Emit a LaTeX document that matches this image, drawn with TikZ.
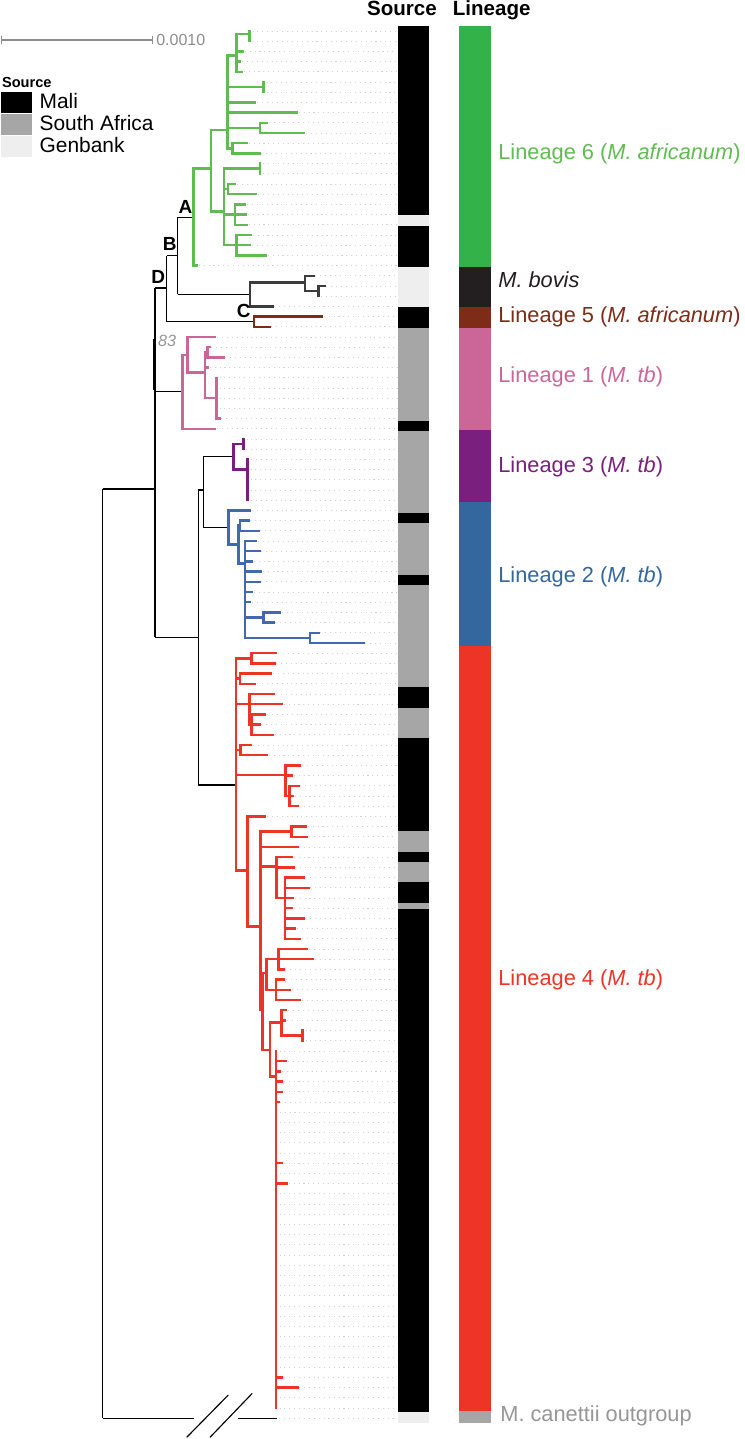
\documentclass[tikz,border=0pt]{standalone}
\usepackage{fontspec}
\setmainfont{Liberation Sans}
\definecolor{lsixbar}{RGB}{51,178,74}
\definecolor{lsix}{RGB}{95,188,80}
\definecolor{bovis}{RGB}{35,31,32}
\definecolor{bovbr}{RGB}{60,60,60}
\definecolor{lfive}{RGB}{126,43,23}
\definecolor{lone}{RGB}{204,102,153}
\definecolor{lthree}{RGB}{122,31,125}
\definecolor{ltwo}{RGB}{52,103,158}
\definecolor{ltwobr}{RGB}{66,104,176}
\definecolor{lfour}{RGB}{237,52,38}
\definecolor{outgrp}{RGB}{166,166,166}
\definecolor{outtxt}{RGB}{150,150,150}
\definecolor{sagray}{RGB}{166,166,166}
\definecolor{genbank}{RGB}{238,238,238}
\definecolor{guidegray}{RGB}{210,210,210}
\definecolor{scalegray}{RGB}{140,140,140}
\newcommand{\ry}[1]{31+10.2*#1}

\begin{document}
\begin{tikzpicture}[x=0.02cm, y=-0.02cm,
  anc/.style={line width=0.65pt, black},
  br/.style={line width=1.45pt, line cap=rect},
  guide/.style={guidegray, line width=0.45pt, dash pattern=on 0.6pt off 2.2pt},
  lablin/.style={anchor=base west, inner sep=0pt, font=\fontsize{12.4}{14}\selectfont},
  hdr/.style={anchor=base, inner sep=0pt, font=\fontsize{11.7}{13}\selectfont\bfseries},
  nodelab/.style={anchor=base, inner sep=0pt, font=\fontsize{10.8}{12}\selectfont\bfseries},
  legtxt/.style={anchor=base west, inner sep=0pt, font=\fontsize{11.9}{13}\selectfont}]
  \useasboundingbox (0,0) rectangle (744,1439);

  % --- Scale bar and legend ---
  \draw[scalegray, line width=0.6pt] (1.7,40) -- (152.7,40);
  \draw[scalegray, line width=0.6pt] (1.7,36) -- (1.7,44) (152.7,36) -- (152.7,44);
  \node[anchor=base west, inner sep=0pt, scalegray, font=\fontsize{9.1}{10}\selectfont] (scl) at (156,45.7) {0.0010};
  \node[anchor=base west, inner sep=0pt, font=\fontsize{8.3}{9}\selectfont\bfseries] (legt) at (1.7,87.3) {Source};
  \fill[black] (1,92.5) rectangle (31.7,113);
  \fill[sagray] (1,114) rectangle (31.7,135.5);
  \fill[genbank] (1,136.5) rectangle (31.7,157);
  \node[legtxt] (legm) at (39.3,108.3) {Mali};
  \node[legtxt] (legs) at (39.3,131) {South Africa};
  \node[legtxt] (legg) at (39.3,152.7) {Genbank};

  % --- Column headers ---
  \node[hdr] (hsrc) at (402,15.2) {Source};
  \node[hdr] (hlin) at (491.7,15.2) {Lineage};

  % --- Dotted guides from the tips ---
  \foreach \t/\r in {250.5/0, 250.5/1, 242.7/2, 240/3, 241.7/4, 264.5/5, 264.5/6, 255/7,
      296.7/8, 266.7/9, 304/10, 246.7/11, 259.3/12, 261/13, 261/14, 235/15, 256/16,
      245/17, 245.7/18, 246.7/19, 250.7/20, 250/21, 265.7/22, 196.7/23,
      313.3/24, 324.3/25, 319/26, 272.3/27, 321.7/28, 269.3/29,
      215/30, 209.3/31, 223.3/32, 207.7/33, 217.5/34, 217.5/35, 217.5/36, 217.5/37, 219.3/38, 215/39,
      244.5/40, 244/41, 249.3/42, 248.5/43, 248.5/44, 248.5/45, 249/46,
      250/47, 248.3/48, 258.3/49, 256/50, 259.3/51, 251.7/52, 260.7/53, 259.3/54, 251.7/55,
      250/56, 280/57, 273.3/58, 318.3/59, 363.3/60,
      276/61, 274.3/62, 271/63, 255/64, 274/65, 281.7/66, 265/67, 259.3/68, 272.7/69, 251/70,
      266.7/71, 300/72, 291.7/73, 298.3/74, 292.7/75, 297.3/76, 265/77, 305.7/78, 306.7/79,
      297.3/80, 291.7/81, 293.3/82, 303.3/83, 308.3/84, 292.7/85, 291.7/86, 303.3/87, 295/88,
      300/89, 306.7/90, 312.7/91, 283.3/92, 284/93, 290/94, 300/95, 286/96, 285/97, 303.5/98,
      303.5/99, 277.5/100, 285.7/101, 280/102, 281.7/103, 281.7/104, 278.3/105, 277.7/106,
      277.5/107, 277.5/108, 277.5/109, 277.5/110, 281.7/111, 277.5/112, 286.7/113, 277.5/114,
      277.5/115, 277.5/116, 277.5/117, 277.5/118, 277.5/119, 277.5/120, 277.5/121, 277.5/122,
      277.5/123, 277.5/124, 277.5/125, 277.5/126, 277.5/127, 277.5/128, 277.5/129, 277.5/130,
      277.5/131, 282/132, 297.3/133, 277.5/134, 277.5/135, 277.3/136}
    \draw[guide] ({\t+2},{\ry{\r}}) -- (397,{\ry{\r}});

  % --- Source bar ---
  \foreach \a/\b/\c in {26/215/black, 215/226/genbank, 226/267/black, 267/307.3/genbank,
      307.3/328.3/black, 328.3/420.7/sagray, 420.7/431/black, 431/513.3/sagray,
      513.3/523.3/black, 523.3/575/sagray, 575/585/black, 585/687.3/sagray,
      687.3/707.7/black, 707.7/738.3/sagray, 738.3/831/black, 831/851.7/sagray,
      851.7/861.7/black, 861.7/882.3/sagray, 882.3/903.3/black, 903.3/909.3/sagray,
      909.3/1412.3/black, 1412.3/1423/genbank}
    \fill[\c] (398,\a) rectangle (428.5,\b);

  % --- Lineage bar ---
  \foreach \a/\b/\c in {26/267/lsixbar, 267/307.3/bovis, 307.3/328.3/lfive, 328.3/430/lone,
      430/502.3/lthree, 502.3/645.7/ltwo, 645.7/1411.3/lfour, 1411.3/1423/outgrp}
    \fill[\c] (459,\a) rectangle (491,\b);

  % --- Backbone (black) ---
  \foreach \x/\a/\b in {102.7/489/1418.2, 155/288/637.3, 166.7/255.8/321.7,
      177.7/217.3/294.3, 198.3/490/785, 203.3/456.9/527.5}
    \draw[anc] (\x,\a) -- (\x,\b);
  \foreach \a/\b/\y in {102.7/155/489, 155/166.7/288, 155/182.7/391.8, 155/198.3/637.3,
      166.7/177.7/255.8, 166.7/254/321.7, 177.7/193.3/217.3, 177.7/250/294.3,
      198.3/203.3/490, 198.3/236/785, 203.3/233.3/456.9, 203.3/228.3/527.5}
    \draw[anc] (\a,\y) -- (\b,\y);
  \draw[line width=1.4pt] (154.7,339) -- (154.7,390);
  % outgroup with break
  \draw[anc] (102.7,1418.2) -- (194,1418.2);
  \draw[anc] (238.3,1418.2) -- (277.3,1418.2);
  \draw[anc] (186.7,1437.3) -- (228.3,1395);
  \draw[anc] (210,1437.3) -- (252.3,1393.3);

  % --- Lineage 6 (green) ---
  \foreach \x/\a/\b in {193.3/168.3/265.6, 211/130/211.7, 227.7/55.5/148.3, 236.7/34/71.8,
      249.3/31/41.2, 263.3/82/92.2, 260/122.8/133, 232.3/143.2/153.4, 224/168.7/245.2,
      260/163.6/173.8, 228/184/194.2, 235/204.4/224.8, 236.7/235/255.4}
    \draw[br, lsix] (\x,\a) -- (\x,\b);
  \foreach \a/\b/\y in {193.3/211/168.3, 211/227.7/130, 211/224/211.7, 227.7/236.7/55.5,
      236.7/249.3/34, 227.7/263.3/87.1, 227.7/260/127.9, 227.7/232.3/148.3, 224/260/168.7,
      224/228/189.1, 224/235/214.6, 224/236.7/245.2}
    \draw[br, lsix] (\a,\y) -- (\b,\y);
  \foreach \p/\t/\r in {236.7/242.7/2, 236.7/240/3, 236.7/241.7/4, 227.7/255/7, 227.7/296.7/8,
      260/266.7/9, 260/304/10, 232.3/246.7/11, 232.3/259.3/12, 228/235/15, 228/256/16,
      235/245/17, 235/245.7/18, 235/246.7/19, 236.7/250.7/20, 236.7/250/21, 236.7/265.7/22,
      193.3/196.7/23}
    \draw[br, lsix] (\p,{\ry{\r}}) -- (\t,{\ry{\r}});

  % --- M. bovis and Lineage 5 ---
  \foreach \x/\a/\b in {250/282.5/306.4, 305/275.8/291.1, 318.3/286/296.2}
    \draw[br, bovbr] (\x,\a) -- (\x,\b);
  \foreach \a/\b/\y in {250/305/282.5, 305/318.3/291.1}
    \draw[br, bovbr] (\a,\y) -- (\b,\y);
  \foreach \p/\t/\r in {305/313.3/24, 318.3/324.3/25, 250/272.3/27}
    \draw[br, bovbr] (\p,{\ry{\r}}) -- (\t,{\ry{\r}});
  \draw[br, lfive] (254,{\ry{28}}) -- (254,{\ry{29}});
  \foreach \p/\t/\r in {254/321.7/28, 254/269.3/29}
    \draw[br, lfive] (\p,{\ry{\r}}) -- (\t,{\ry{\r}});

  % --- Lineage 1 (pink) ---
  \foreach \x/\a/\b in {182.7/354.8/428.8, 187.7/337/372.7, 205/352.3/398.2,
      207.7/347.2/357.4, 216.7/377.8/418.6}
    \draw[br, lone] (\x,\a) -- (\x,\b);
  \foreach \a/\b/\y in {182.7/187.7/354.8, 187.7/205/372.7, 205/207.7/352.3, 205/216.7/398.2}
    \draw[br, lone] (\a,\y) -- (\b,\y);
  \foreach \p/\t/\r in {187.7/215/30, 207.7/209.3/31, 207.7/223.3/32, 205/207.7/33,
      216.7/219.3/38, 182.7/215/39}
    \draw[br, lone] (\p,{\ry{\r}}) -- (\t,{\ry{\r}});

  % --- Lineage 3 (purple) ---
  \foreach \x/\a/\b in {233.3/444.1/469.6, 243.3/439/449.2, 247.7/459.4/500.2}
    \draw[br, lthree] (\x,\a) -- (\x,\b);
  \foreach \a/\b/\y in {233.3/243.3/444.1, 233.3/247.7/469.6}
    \draw[br, lthree] (\a,\y) -- (\b,\y);

  % --- Lineage 2 (blue) ---
  \foreach \x/\a/\b in {228.3/510.4/544.5, 238.3/525.7/563.3, 240/520.6/530.8,
      245/541/637.9, 263.3/612.4/622.6, 310/632.8/643}
    \draw[br, ltwobr] (\x,\a) -- (\x,\b);
  \foreach \a/\b/\y in {228.3/238.3/544.5, 238.3/240/525.7, 238.3/245/563.3,
      245/263.3/617.5, 245/310/637.9}
    \draw[br, ltwobr] (\a,\y) -- (\b,\y);
  \foreach \p/\t/\r in {228.3/250/47, 240/248.3/48, 240/258.3/49, 245/256/50, 245/259.3/51,
      245/251.7/52, 245/260.7/53, 245/259.3/54, 245/251.7/55, 245/250/56, 263.3/280/57,
      263.3/273.3/58, 310/318.3/59, 310/363.3/60}
    \draw[br, ltwobr] (\p,{\ry{\r}}) -- (\t,{\ry{\r}});

  % --- Lineage 4 (red) ---
  \foreach \x/\a/\b in {236/658.3/870.7, 251.7/653.2/663.4, 240/673.6/683.8, 249.3/694/724.6,
      251.7/714.4/734.8, 240.7/745/755.2, 285.7/765.4/796, 289.3/785.8/806.2,
      247.7/816.4/926.7, 260.5/831.7/1010, 291.7/826.6/836.8, 276.7/857.2/898,
      285/877.6/938.8, 262.3/972.9/1050, 266.7/959.2/989.8, 278.3/949/969.4,
      276/979.6/1000, 270/1022.7/1076.7, 281.7/1010.2/1035.7, 302.7/1030.6/1040.8,
      276/1051/1408}
    \draw[br, lfour] (\x,\a) -- (\x,\b);
  \foreach \a/\b/\y in {236/251.7/658.3, 236/240/678.7, 236/249.3/704.2, 249.3/251.7/724.6,
      236/240.7/750.1, 236/285.7/775, 285.7/289.3/796, 236/247.7/870.7, 247.7/260.5/926.7,
      260.5/291.7/831.7, 260.5/276.7/866.7, 276.7/285/898, 260.5/262.3/1010,
      262.3/266.7/972.9, 266.7/278.3/959.2, 266.7/276/989.8, 262.3/270/1050,
      270/281.7/1022.7, 281.7/302.7/1035.7, 270/276/1076.7}
    \draw[br, lfour] (\a,\y) -- (\b,\y);
  \foreach \p/\t/\r in {251.7/276/61, 251.7/274.3/62, 240/271/63, 240/255/64, 249.3/274/65,
      249.3/281.7/66, 251.7/265/67, 251.7/259.3/68, 251.7/272.7/69, 240.7/251/70,
      240.7/266.7/71, 285.7/300/72, 285.7/291.7/73, 289.3/298.3/74, 289.3/292.7/75,
      289.3/297.3/76, 247.7/265/77, 291.7/305.7/78, 291.7/306.7/79, 260.5/297.3/80,
      276.7/291.7/81, 276.7/293.3/82, 285/303.3/83, 285/308.3/84, 285/292.7/85,
      285/291.7/86, 285/303.3/87, 285/295/88, 285/300/89, 278.3/306.7/90, 278.3/312.7/91,
      278.3/283.3/92, 276/284/93, 276/290/94, 276/300/95, 281.7/286/96, 281.7/285/97,
      276/285.7/101, 276/280/102, 276/281.7/103, 276/281.7/104, 276/278.3/105,
      276/281.7/111, 276/286.7/113, 276/282/132, 276/297.3/133}
    \draw[br, lfour] (\p,{\ry{\r}}) -- (\t,{\ry{\r}});

  % --- Node labels ---
  \node[nodelab] (labA) at (185.5,213.3) {A};
  \node[nodelab] (labB) at (169.7,250.7) {B};
  \node[nodelab] (labC) at (243.7,317.3) {C};
  \node[nodelab] (labD) at (158.3,284) {D};
  \node[anchor=base, inner sep=0pt, outtxt, font=\fontsize{9.2}{10}\selectfont\itshape] (boot) at (167,346.7) {83};

  % --- Lineage labels ---
  \node[lablin, lsix] (lab6) at (498,160) {Lineage 6 (\textit{M. africanum})};
  \node[lablin, bovis] (labbov) at (498,287.3) {\textit{M. bovis}};
  \node[lablin, lfive] (lab5) at (498,322.7) {Lineage 5 (\textit{M. africanum})};
  \node[lablin, lone] (lab1) at (498,382.7) {Lineage 1 (\textit{M. tb})};
  \node[lablin, lthree] (lab3) at (498,472.7) {Lineage 3 (\textit{M. tb})};
  \node[lablin, ltwo] (lab2) at (498,582.7) {Lineage 2 (\textit{M. tb})};
  \node[lablin, lfour] (lab4) at (498,985) {Lineage 4 (\textit{M. tb})};
  \node[lablin, outtxt] (labout) at (500,1421.7) {M. canettii outgroup};
\end{tikzpicture}
\end{document}
